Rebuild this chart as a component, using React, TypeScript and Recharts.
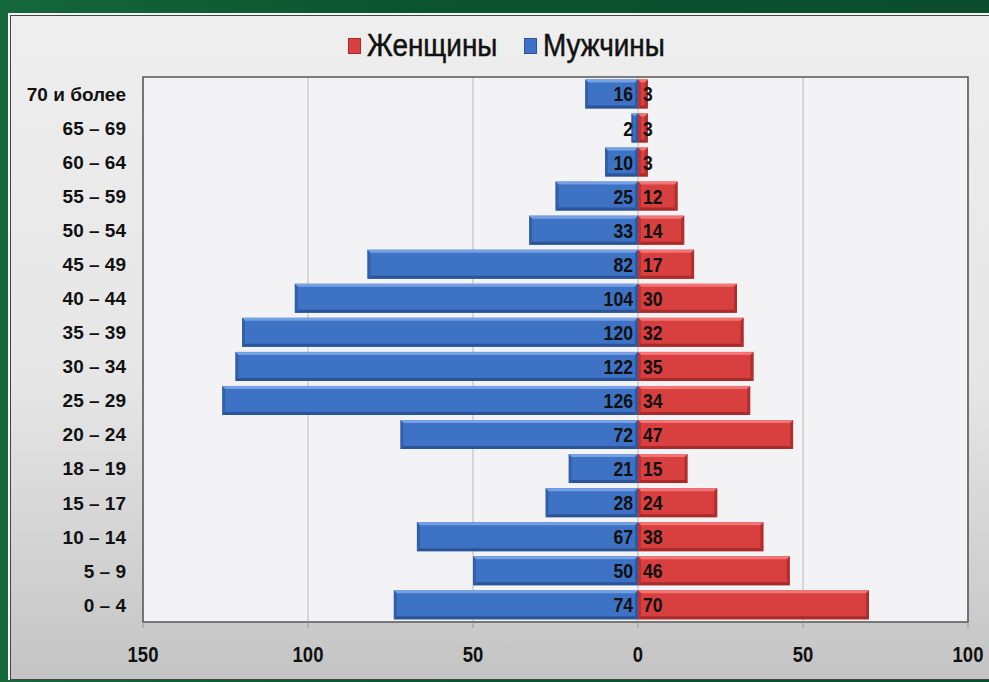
import React from "react";
import {
  BarChart,
  Bar,
  XAxis,
  YAxis,
  CartesianGrid,
  LabelList,
  ReferenceArea,
} from "recharts";

const ageGroups = [
  "70 и более",
  "65 – 69",
  "60 – 64",
  "55 – 59",
  "50 – 54",
  "45 – 49",
  "40 – 44",
  "35 – 39",
  "30 – 34",
  "25 – 29",
  "20 – 24",
  "18 – 19",
  "15 – 17",
  "10 – 14",
  "5 – 9",
  "0 – 4",
];
const men = [16, 2, 10, 25, 33, 82, 104, 120, 122, 126, 72, 21, 28, 67, 50, 74];
const women = [3, 3, 3, 12, 14, 17, 30, 32, 35, 34, 47, 15, 24, 38, 46, 70];
const xTicks = [-150, -100, -50, 0, 50, 100];

const data = ageGroups.map((age, i) => ({
  age,
  men: -men[i],
  women: women[i],
}));

const SANS = "'Liberation Sans', Arial, sans-serif";

const BLUE = { base: "#3d72c4", light: "#75a1e4", dark: "#2a5496" };
const RED = { base: "#d83f3f", light: "#f27474", dark: "#a82a2a" };

function bevelShape(pal: typeof BLUE) {
  return (props: any) => {
    let { x, y, width, height } = props;
    if (width < 0) {
      x = x + width;
      width = -width;
    }
    if (!width || width <= 0) return <g />;
    const b = Math.min(3, width / 3);
    return (
      <g>
        <rect x={x} y={y} width={width} height={height} fill={pal.base} />
        <polygon
          points={`${x},${y} ${x + width},${y} ${x + width - b},${y + b} ${x + b},${y + b}`}
          fill={pal.light}
        />
        <polygon
          points={`${x},${y + height} ${x + width},${y + height} ${x + width - b},${y + height - b} ${x + b},${y + height - b}`}
          fill={pal.dark}
        />
        <polygon
          points={`${x + width},${y} ${x + width},${y + height} ${x + width - b},${y + height - b} ${x + width - b},${y + b}`}
          fill={pal.dark}
          opacity={0.8}
        />
        <polygon
          points={`${x},${y} ${x},${y + height} ${x + b},${y + height - b} ${x + b},${y + b}`}
          fill={pal.dark}
          opacity={0.6}
        />
      </g>
    );
  };
}

// condensed bold text, like Arial Narrow in the original
function NarrowText({ x, y, anchor, size, children }: any) {
  return (
    <text
      transform={`translate(${x},${y}) scale(0.84,1)`}
      dy="0.36em"
      textAnchor={anchor}
      fontFamily={SANS}
      fontWeight="bold"
      fontSize={size}
      fill="#111"
    >
      {children}
    </text>
  );
}

const menLabel = (props: any) => {
  const { x, y, width, height, value } = props;
  return (
    <NarrowText x={Math.max(x, x + width) - 5} y={y + height / 2} anchor="end" size={21}>
      {Math.abs(value)}
    </NarrowText>
  );
};

const womenLabel = (props: any) => {
  const { x, y, width, height, value } = props;
  return (
    <NarrowText x={Math.min(x, x + width) + 5} y={y + height / 2} anchor="start" size={21}>
      {value}
    </NarrowText>
  );
};

const xTick = (props: any) => {
  const { x, y, payload } = props;
  return (
    <NarrowText x={x} y={y + 8} anchor="middle" size={22}>
      {Math.abs(payload.value)}
    </NarrowText>
  );
};

const legendItems = [
  { name: "Женщины", pal: RED },
  { name: "Мужчины", pal: BLUE },
];

export default function App() {
  return (
    <div
      style={{
        position: "fixed",
        left: 0,
        top: 0,
        width: 989,
        height: 682,
        overflow: "hidden",
        background: "linear-gradient(90deg, #14683a 0%, #0b5430 40%, #0a4c2c 100%)",
      }}
    >
      <div
        style={{
          position: "absolute",
          left: 8,
          top: 13,
          width: 990,
          height: 667,
          boxSizing: "border-box",
          borderTop: "2px solid #f4f4f4",
          borderLeft: "2px solid #f4f4f4",
        }}
      >
        <div
          style={{
            position: "relative",
            width: "100%",
            height: "100%",
            boxSizing: "border-box",
            border: "1px solid #444",
            background: "linear-gradient(180deg, #eeeeee 0%, #e6e6e6 55%, #c4c4c4 100%)",
          }}
        >
          <div
            style={{
              position: "absolute",
              top: 12,
              left: 3,
              width: 984,
              display: "flex",
              justifyContent: "center",
              gap: 26,
              fontFamily: SANS,
              fontSize: 31,
              color: "#111",
              lineHeight: "36px",
              WebkitTextStroke: "0.5px #111",
            }}
          >
            {legendItems.map((it) => (
              <span key={it.name} style={{ display: "flex", alignItems: "center" }}>
                <span
                  style={{
                    display: "inline-block",
                    width: 11,
                    height: 14,
                    marginRight: 6,
                    background: it.pal.base,
                    border: `1px solid ${it.pal.dark}`,
                  }}
                />
                <span
                  style={{
                    display: "inline-block",
                    transform: "scaleX(0.9)",
                    transformOrigin: "left center",
                    marginRight: -14,
                  }}
                >
                  {it.name}
                </span>
              </span>
            ))}
          </div>
          <BarChart
            width={984}
            height={662}
            data={data}
            layout="vertical"
            stackOffset="sign"
            barCategoryGap="7%"
            margin={{ top: 61, right: 27, bottom: 26, left: 12 }}
          >
            <CartesianGrid horizontal={false} stroke="#b8b8b8" fill="#f3f3f6" />
            <ReferenceArea
              x1={-150}
              x2={100}
              fill="none"
              stroke="#555"
              strokeWidth={1.5}
              ifOverflow="visible"
            />
            <XAxis
              type="number"
              domain={[-150, 100]}
              ticks={xTicks}
              axisLine={false}
              tickLine={{ stroke: "#999" }}
              tickSize={6}
              tickMargin={18}
              tick={xTick}
              interval={0}
            />
            <YAxis
              type="category"
              dataKey="age"
              width={120}
              axisLine={false}
              tickLine={false}
              tickMargin={11}
              interval={0}
              tick={{ fontFamily: SANS, fontWeight: "bold", fontSize: 19, fill: "#111" }}
            />
            <Bar
              dataKey="men"
              name="Мужчины"
              stackId="a"
              fill={BLUE.base}
              shape={bevelShape(BLUE)}
              isAnimationActive={false}
            >
              <LabelList dataKey="men" content={menLabel} />
            </Bar>
            <Bar
              dataKey="women"
              name="Женщины"
              stackId="a"
              fill={RED.base}
              shape={bevelShape(RED)}
              isAnimationActive={false}
            >
              <LabelList dataKey="women" content={womenLabel} />
            </Bar>
          </BarChart>
        </div>
      </div>
    </div>
  );
}
